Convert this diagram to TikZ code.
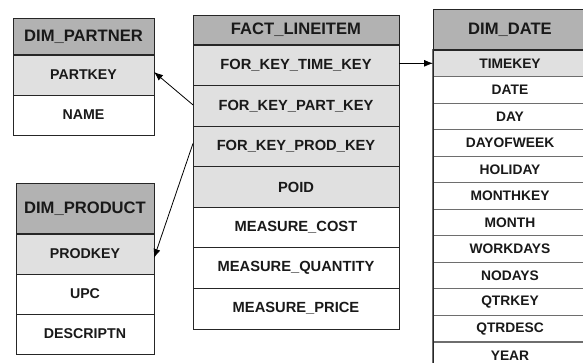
\documentclass[tikz,border=0pt]{standalone}
\usepackage{fontspec}
\setmainfont{Liberation Sans}
\usetikzlibrary{arrows.meta}
\definecolor{hdrgray}{RGB}{178,178,178}
\definecolor{keygray}{RGB}{224,224,224}
\definecolor{sepgray}{RGB}{110,110,110}
\begin{document}
\begin{tikzpicture}[x=1pt,y=-1pt,
  cell/.style={draw=black!85, line width=0.8pt, inner sep=0pt, outer sep=0pt, fill=white,
    font=\fontsize{14.2}{16}\selectfont\bfseries, text=black!90},
  hdr/.style={cell, fill=hdrgray, font=\fontsize{16.6}{18}\selectfont\bfseries},
  keyrow/.style={cell, fill=keygray},
  factcell/.style={font=\fontsize{14.7}{16}\selectfont\bfseries},
  datecell/.style={cell, draw=sepgray, line width=1.1pt, font=\fontsize{13.8}{16}\selectfont\bfseries},
  outline/.style={draw=black!85, line width=1pt},
  hline/.style={draw=black!85, line width=1.6pt},
  fk/.style={-{Latex[length=9pt,width=7pt]}, line width=0.8pt, black}
]
\useasboundingbox (0,0) rectangle (583,362);

% DIM_PARTNER
\begin{scope}[every node/.append style={minimum width=141pt}]
\node[hdr, minimum height=37pt] (p0) at (83.5,36.5) {DIM\_PARTNER};
\node[keyrow, minimum height=40pt] (p1) at (83.5,75) {PARTKEY};
\node[cell, minimum height=40pt] (p2) at (83.5,115) {NAME};
\end{scope}
\draw[outline] (p0.north west) rectangle (p2.south east);
\draw[hline] (p0.south west) -- (p0.south east);

% DIM_PRODUCT
\begin{scope}[every node/.append style={minimum width=138pt}]
\node[hdr, minimum height=51pt] (q0) at (85,208.5) {DIM\_PRODUCT};
\node[keyrow, minimum height=40pt] (q1) at (85,254) {PRODKEY};
\node[cell, minimum height=40pt] (q2) at (85,294) {UPC};
\node[cell, minimum height=40pt] (q3) at (85,334) {DESCRIPTN};
\end{scope}
\draw[outline] (q0.north west) rectangle (q3.south east);
\draw[hline] (q0.south west) -- (q0.south east);

% FACT_LINEITEM
\begin{scope}[every node/.append style={minimum width=206pt, minimum height=40.6pt}]
\node[hdr, minimum height=30pt] (f0) at (296,30) {FACT\_LINEITEM};
\node[keyrow, factcell] (f1) at (296,65.3) {FOR\_KEY\_TIME\_KEY};
\node[keyrow, factcell] (f2) at (296,105.9) {FOR\_KEY\_PART\_KEY};
\node[keyrow, factcell] (f3) at (296,146.4) {FOR\_KEY\_PROD\_KEY};
\node[keyrow, factcell] (f4) at (296,187.0) {POID};
\node[cell, factcell] (f5) at (296,227.6) {MEASURE\_COST};
\node[cell, factcell] (f6) at (296,268.1) {MEASURE\_QUANTITY};
\node[cell, factcell] (f7) at (296,308.7) {MEASURE\_PRICE};
\end{scope}
\draw[outline] (f0.north west) rectangle (f7.south east);
\draw[hline] (f0.south west) -- (f0.south east);

% DIM_DATE
\begin{scope}[every node/.append style={minimum width=154pt, minimum height=26.55pt}]
\node[hdr, minimum height=41pt] (d0) at (510,29.5) {DIM\_DATE};
\node[datecell, fill=keygray] (d1) at (510,63.3) {TIMEKEY};
\node[datecell] (d2) at (510,89.8) {DATE};
\node[datecell] (d3) at (510,116.4) {DAY};
\node[datecell] (d4) at (510,142.9) {DAYOFWEEK};
\node[datecell] (d5) at (510,169.5) {HOLIDAY};
\node[datecell] (d6) at (510,196.0) {MONTHKEY};
\node[datecell] (d7) at (510,222.6) {MONTH};
\node[datecell] (d8) at (510,249.1) {WORKDAYS};
\node[datecell] (d9) at (510,275.7) {NODAYS};
\node[datecell] (d10) at (510,302.2) {QTRKEY};
\node[datecell] (d11) at (510,328.8) {QTRDESC};
\node[datecell] (d12) at (510,355.3) {YEAR};
\end{scope}
\draw[outline] (d0.north west) rectangle (d12.south east);
\draw[hline] (d0.south west) -- (d0.south east);

% foreign keys
\draw[fk] ([yshift=1pt]f2.west) -- ([yshift=3pt]p1.east);
\draw[fk] ([yshift=3pt]f3.west) -- ([yshift=-4pt]q1.east);
\draw[fk] ([yshift=2pt]f1.east) -- (d1.west);
\end{tikzpicture}
\end{document}
